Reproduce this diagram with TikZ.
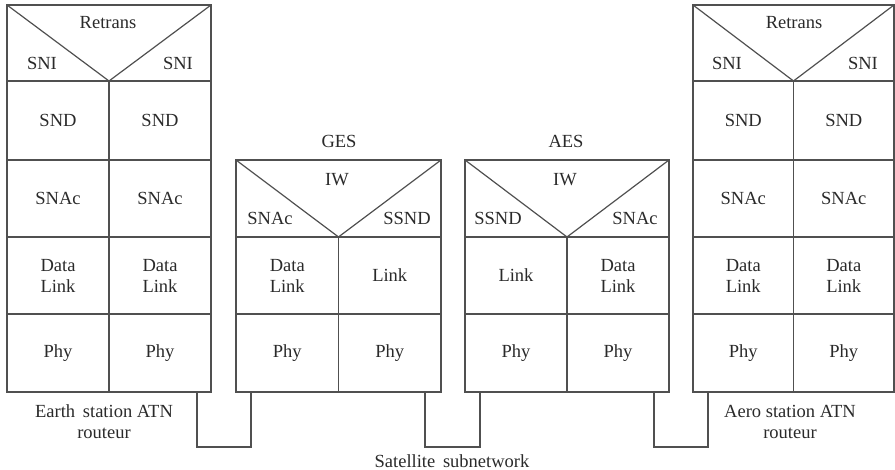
\documentclass[tikz,border=0pt]{standalone}
\usepackage{fontspec}
\setmainfont{Liberation Serif}
\newfontfamily\labelfont{Liberation Serif}
\definecolor{linec}{HTML}{505050}
\definecolor{textc}{HTML}{2A2A2A}
% one rectangular layer cell, given by its corners (x0,y0) and (x1,y1)
\newcommand\laycell[6]{%
  \node[cell, minimum width={(#4-#2)*1pt}, minimum height={(#5-#3)*1pt}]
    (#1) at ({(#2+#4)/2},{(#3+#5)/2}) {#6};}
\tikzset{
  cell/.style={draw=linec, line width=1.2pt, inner sep=0pt, outer sep=0pt,
    align=center, text=textc},
  lbl/.style={inner sep=0pt, align=center, text=textc},
  wire/.style={draw=linec, line width=1.2pt},
}
\begin{document}
\begin{tikzpicture}[x=1pt, y=-1pt,
  every node/.append style={font=\labelfont\fontsize{18.5}{21}\selectfont}]
\useasboundingbox (0,0) rectangle (895,470);

% ---- Earth station ATN router
\laycell{Ltop}{7}{5}{211}{81}{}
\draw[wire] (Ltop.north west) -- (Ltop.south) -- (Ltop.north east);
\node[lbl] (Lret) at (108,23) {Retrans};
\node[lbl] (Lsni1) at (42,63) {SNI};
\node[lbl] (Lsni2) at (178,63) {SNI};
\laycell{Lsnd1}{7}{81}{109}{160}{SND}
\laycell{Lsnd2}{109}{81}{211}{160}{SND}
\laycell{Lsnac1}{7}{160}{109}{237}{SNAc}
\laycell{Lsnac2}{109}{160}{211}{237}{SNAc}
\laycell{Ldl1}{7}{237}{109}{314}{Data\\Link}
\laycell{Ldl2}{109}{237}{211}{314}{Data\\Link}
\laycell{Lphy1}{7}{314}{109}{392}{Phy}
\laycell{Lphy2}{109}{314}{211}{392}{Phy}
\node[lbl] (Lname) at (104,422) {Earth\, station ATN\\routeur};

% ---- GES
\node[lbl] (Gname) at (339,141) {GES};
\laycell{Gtop}{236}{160}{441}{237}{}
\draw[wire] (Gtop.north west) -- (Gtop.south) -- (Gtop.north east);
\node[lbl] (Giw) at (337,180) {IW};
\node[lbl] (Gsnac) at (270,218) {SNAc};
\node[lbl] (Gssnd) at (407,218) {SSND};
\laycell{Gdl}{236}{237}{338.5}{314}{Data\\Link}
\laycell{Glink}{338.5}{237}{441}{314}{Link}
\laycell{Gphy1}{236}{314}{338.5}{392}{Phy}
\laycell{Gphy2}{338.5}{314}{441}{392}{Phy}

% ---- AES
\node[lbl] (Aname) at (566,141) {AES};
\laycell{Atop}{465}{160}{669}{237}{}
\draw[wire] (Atop.north west) -- (Atop.south) -- (Atop.north east);
\node[lbl] (Aiw) at (565,180) {IW};
\node[lbl] (Assnd) at (498,218) {SSND};
\node[lbl] (Asnac) at (635,218) {SNAc};
\laycell{Alink}{465}{237}{567}{314}{Link}
\laycell{Adl}{567}{237}{669}{314}{Data\\Link}
\laycell{Aphy1}{465}{314}{567}{392}{Phy}
\laycell{Aphy2}{567}{314}{669}{392}{Phy}

% ---- Aero station ATN router
\laycell{Rtop}{693}{5}{894}{81}{}
\draw[wire] (Rtop.north west) -- (Rtop.south) -- (Rtop.north east);
\node[lbl] (Rret) at (794,23) {Retrans};
\node[lbl] (Rsni1) at (727,63) {SNI};
\node[lbl] (Rsni2) at (863,63) {SNI};
\laycell{Rsnd1}{693}{81}{793.5}{160}{SND}
\laycell{Rsnd2}{793.5}{81}{894}{160}{SND}
\laycell{Rsnac1}{693}{160}{793.5}{237}{SNAc}
\laycell{Rsnac2}{793.5}{160}{894}{237}{SNAc}
\laycell{Rdl1}{693}{237}{793.5}{314}{Data\\Link}
\laycell{Rdl2}{793.5}{237}{894}{314}{Data\\Link}
\laycell{Rphy1}{693}{314}{793.5}{392}{Phy}
\laycell{Rphy2}{793.5}{314}{894}{392}{Phy}
\node[lbl] (Rname) at (790,422) {Aero station ATN\\routeur};

% ---- satellite subnetwork links
\coordinate (w1a) at (197,447);
\coordinate (w1b) at (251,447);
\coordinate (w2a) at (425,447);
\coordinate (w2b) at (480,447);
\coordinate (w3a) at (654,447);
\coordinate (w3b) at (708,447);
\draw[wire] (Lphy2.south -| w1a) -- (w1a) -- (w1b) -- (Gphy1.south -| w1b);
\draw[wire] (Gphy2.south -| w2a) -- (w2a) -- (w2b) -- (Aphy1.south -| w2b);
\draw[wire] (Aphy2.south -| w3a) -- (w3a) -- (w3b) -- (Rphy1.south -| w3b);
\node[lbl] (Sat) at (452,461) {Satellite\, subnetwork};
\end{tikzpicture}
\end{document}
